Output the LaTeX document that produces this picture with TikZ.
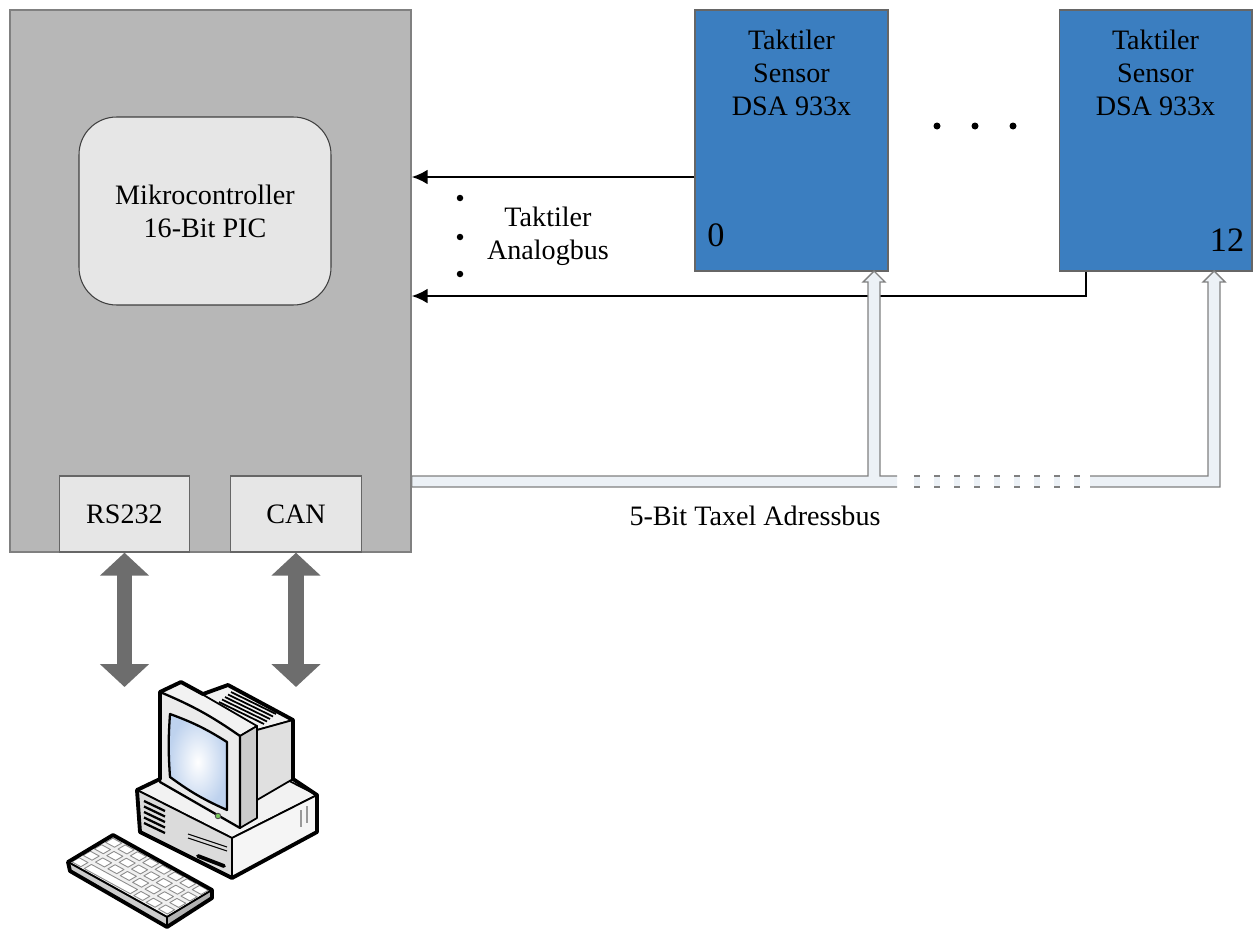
\documentclass[tikz,border=0pt]{standalone}
\usepackage{fontspec}
\setmainfont{Liberation Serif}
\usetikzlibrary{positioning,arrows.meta}

\definecolor{ctrlgray}{RGB}{183,183,183}
\definecolor{portgray}{RGB}{230,230,230}
\definecolor{sensorblue}{RGB}{59,126,192}
\definecolor{busfill}{RGB}{236,241,246}
\definecolor{busline}{RGB}{128,128,128}
\definecolor{linkgray}{RGB}{109,109,109}
\definecolor{screenblue}{RGB}{190,210,238}
\definecolor{ledgreen}{RGB}{120,200,90}

\begin{document}
\begin{tikzpicture}[x=0.02cm,y=-0.02cm,
  font=\fontsize{16}{18.8}\selectfont,
  ctrl/.style={draw=black!50,fill=ctrlgray,line width=0.8pt,minimum width=8.02cm,minimum height=10.84cm,inner sep=0pt},
  mcu/.style={draw=black!75,fill=portgray,line width=0.6pt,rounded corners=0.75cm,minimum width=5.04cm,minimum height=3.76cm,align=center},
  port/.style={draw=black!60,fill=portgray,line width=0.8pt,minimum width=2.61cm,minimum height=1.52cm},
  sensor/.style={draw=black!60,fill=sensorblue,line width=0.6pt,minimum width=3.86cm,minimum height=5.22cm,inner sep=0pt},
  txt/.style={align=center,inner sep=0pt},
  num/.style={font=\fontsize{19.5}{23}\selectfont,inner sep=0pt},
  abus/.style={line width=1.4pt,-{Latex[length=0.32cm,width=0.3cm]}},
  bus/.style={draw=busline,fill=busfill,line width=0.8pt},
  duplex/.style={draw=linkgray,line width=0.32cm,{Triangle[length=0.46cm,width=0.96cm]}-{Triangle[length=0.46cm,width=0.96cm]}},
  pcface/.style={draw=black,line width=1pt,line join=round},
  pcedge/.style={draw=black,line width=2.2pt,line join=round},
  key/.style={draw=black!45,fill=white,line width=0.5pt,line join=round}]

  \useasboundingbox (0,0) rectangle (1255,933);

  % controller board
  \node[ctrl] (ctrl) at (210.5,281) {};
  \node[mcu] (mcu) at (205,211) {Mikrocontroller\\16-Bit PIC};
  \node[port] (rs) at (124.5,514) {RS232};
  \node[port] (can) at (296,514) {CAN};

  % sensors
  \node[sensor] (s0) at (791.5,140.5) {};
  \node[sensor] (s12) at (1155.5,140.5) {};
  \node[txt,below=0.4cm of s0.north] (t0) {Taktiler\\Sensor\\DSA 933x};
  \node[txt,below=0.4cm of s12.north] (t12) {Taktiler\\Sensor\\DSA 933x};
  \node[num] (n0) at (716,235) {0};
  \node[num] (n12) at (1227,240) {12};
  \foreach \x in {937,975,1013}
    \fill (\x,126) circle (0.07cm);

  % analog bus
  \draw[abus] (s0.west |- 0,177) -- (ctrl.east |- 0,177);
  \draw[abus] (s12.south -| 1086,0) -- (1086,296) -- (ctrl.east |- 0,296);
  \foreach \y in {198,237,274}
    \fill (460,\y) circle (0.065cm);
  \node[txt] (abl) at (548,236.5) {Taktiler\\Analogbus};

  % address bus
  \filldraw[bus] (897,487) -- (ctrl.east |- 0,487) -- (ctrl.east |- 0,476) -- (868,476)
    -- (868,282) -- (863,282) -- (874,271) -- (885,282) -- (880,282) -- (880,476) -- (897,476);
  \filldraw[bus] (1090,476) -- (1208,476) -- (1208,282) -- (1203,282) -- (1214,271)
    -- (1225,282) -- (1220,282) -- (1220,487) -- (1090,487);
  \foreach \x in {914,934,...,1074} {
    \fill[busfill] (\x,476) rectangle ++(6,11);
    \draw[busline,line width=0.8pt] (\x,476) -- ++(6,0) (\x,487) -- ++(6,0);
  }
  \node (adl) at (755,516) {5-Bit Taxel Adressbus};

  % links to the PC
  \coordinate (pctop) at (0,687);
  \draw[duplex] (rs.south) -- (rs.south |- pctop);
  \draw[duplex] (can.south) -- (can.south |- pctop);

  % PC: desktop case
  \filldraw[pcface,fill=black!5] (137,790) -- (222,747) -- (317,795) -- (232,838) -- cycle;
  \filldraw[pcface,fill=black!14] (137,790) -- (232,838) -- (232,878) -- (140,832) -- cycle;
  \filldraw[pcface,fill=black!4] (232,838) -- (317,795) -- (317,832) -- (232,878) -- cycle;
  \foreach \k in {0,...,4}
    \draw[line width=1.3pt] (144,{801+5.5*\k}) -- (165,{811+5.5*\k});
  \draw[line width=0.6pt] (188,834) -- (227,847) (188,838) -- (227,851);
  \draw[line width=2.2pt,line cap=round] (198,856) -- (224,866);
  \draw[black!40,line width=1.4pt] (301,810) -- (301,827) (307,806) -- (307,823);

  % PC: monitor housing
  \filldraw[pcface,fill=black!5] (200,696) -- (228,685) -- (293,720) -- (257,730) -- cycle;
  \filldraw[pcface,fill=black!12] (257,730) -- (293,720) -- (293,779) -- (257,800) -- cycle;
  \foreach \k in {0,...,4}
    \draw[line width=1pt] ({219+3*\k},{702-2.5*\k}) -- ({264+3*\k},{724-2.5*\k});

  % PC: bezel and screen
  \filldraw[pcface,fill=black!5] (160,692) -- (181,682) -- (257,726) -- (240,736) -- cycle;
  \filldraw[pcface,fill=black!20] (240,736) -- (257,726) -- (257,818) -- (240,828) -- cycle;
  \filldraw[pcface,line width=1.3pt,fill=black!8] (160,692) to[bend left=6] (240,736) -- (240,828) -- (160,782) -- cycle;
  \shadedraw[pcface,line width=1.3pt,inner color=white,outer color=screenblue] (170,714) to[bend left=6] (227,742)
    -- (227,810) to[bend left=6] (170,777) to[bend left=4] (170,714) -- cycle;
  \filldraw[draw=black!70,fill=ledgreen,line width=0.5pt] (218,816) circle (0.055cm);

  % PC: keyboard
  \filldraw[pcface,fill=black!6] (113,835) -- (212,890) -- (167,917) -- (68,862) -- cycle;
  \filldraw[pcface,fill=black!20] (68,862) -- (167,917) -- (167,927) -- (70,871) -- cycle;
  \filldraw[pcface,fill=black!30] (167,917) -- (212,890) -- (212,898) -- (167,927) -- cycle;
  \begin{scope}[shift={(113,836)},x={(1.98cm,-1.08cm)},y={(-0.9cm,-0.52cm)}]
    \foreach \i in {0,...,7}
      \foreach \j in {0,...,2}
        \filldraw[key] ({(\i+0.15)/8},{(\j+0.18)/4}) -- ++(0.09,0) -- ++(0,0.16) -- ++(-0.09,0) -- cycle;
    \foreach \i in {0,5,6,7}
      \filldraw[key] ({(\i+0.15)/8},{3.18/4}) -- ++(0.09,0) -- ++(0,0.16) -- ++(-0.09,0) -- cycle;
    \filldraw[key] ({1.15/8},{3.18/4}) -- ({4.87/8},{3.18/4}) -- ({4.87/8},{3.82/4}) -- ({1.15/8},{3.82/4}) -- cycle;
  \end{scope}

  % PC: outer contours
  \draw[pcedge] (160,692) -- (181,682) -- (203,694) -- (228,685) -- (293,720) -- (293,779)
    -- (317,795) -- (317,832) -- (232,878) -- (140,832) -- (137,790) -- (160,779) -- cycle;
  \draw[pcedge] (113,835) -- (212,890) -- (212,898) -- (167,927) -- (70,871) -- (68,862) -- cycle;
\end{tikzpicture}
\end{document}
